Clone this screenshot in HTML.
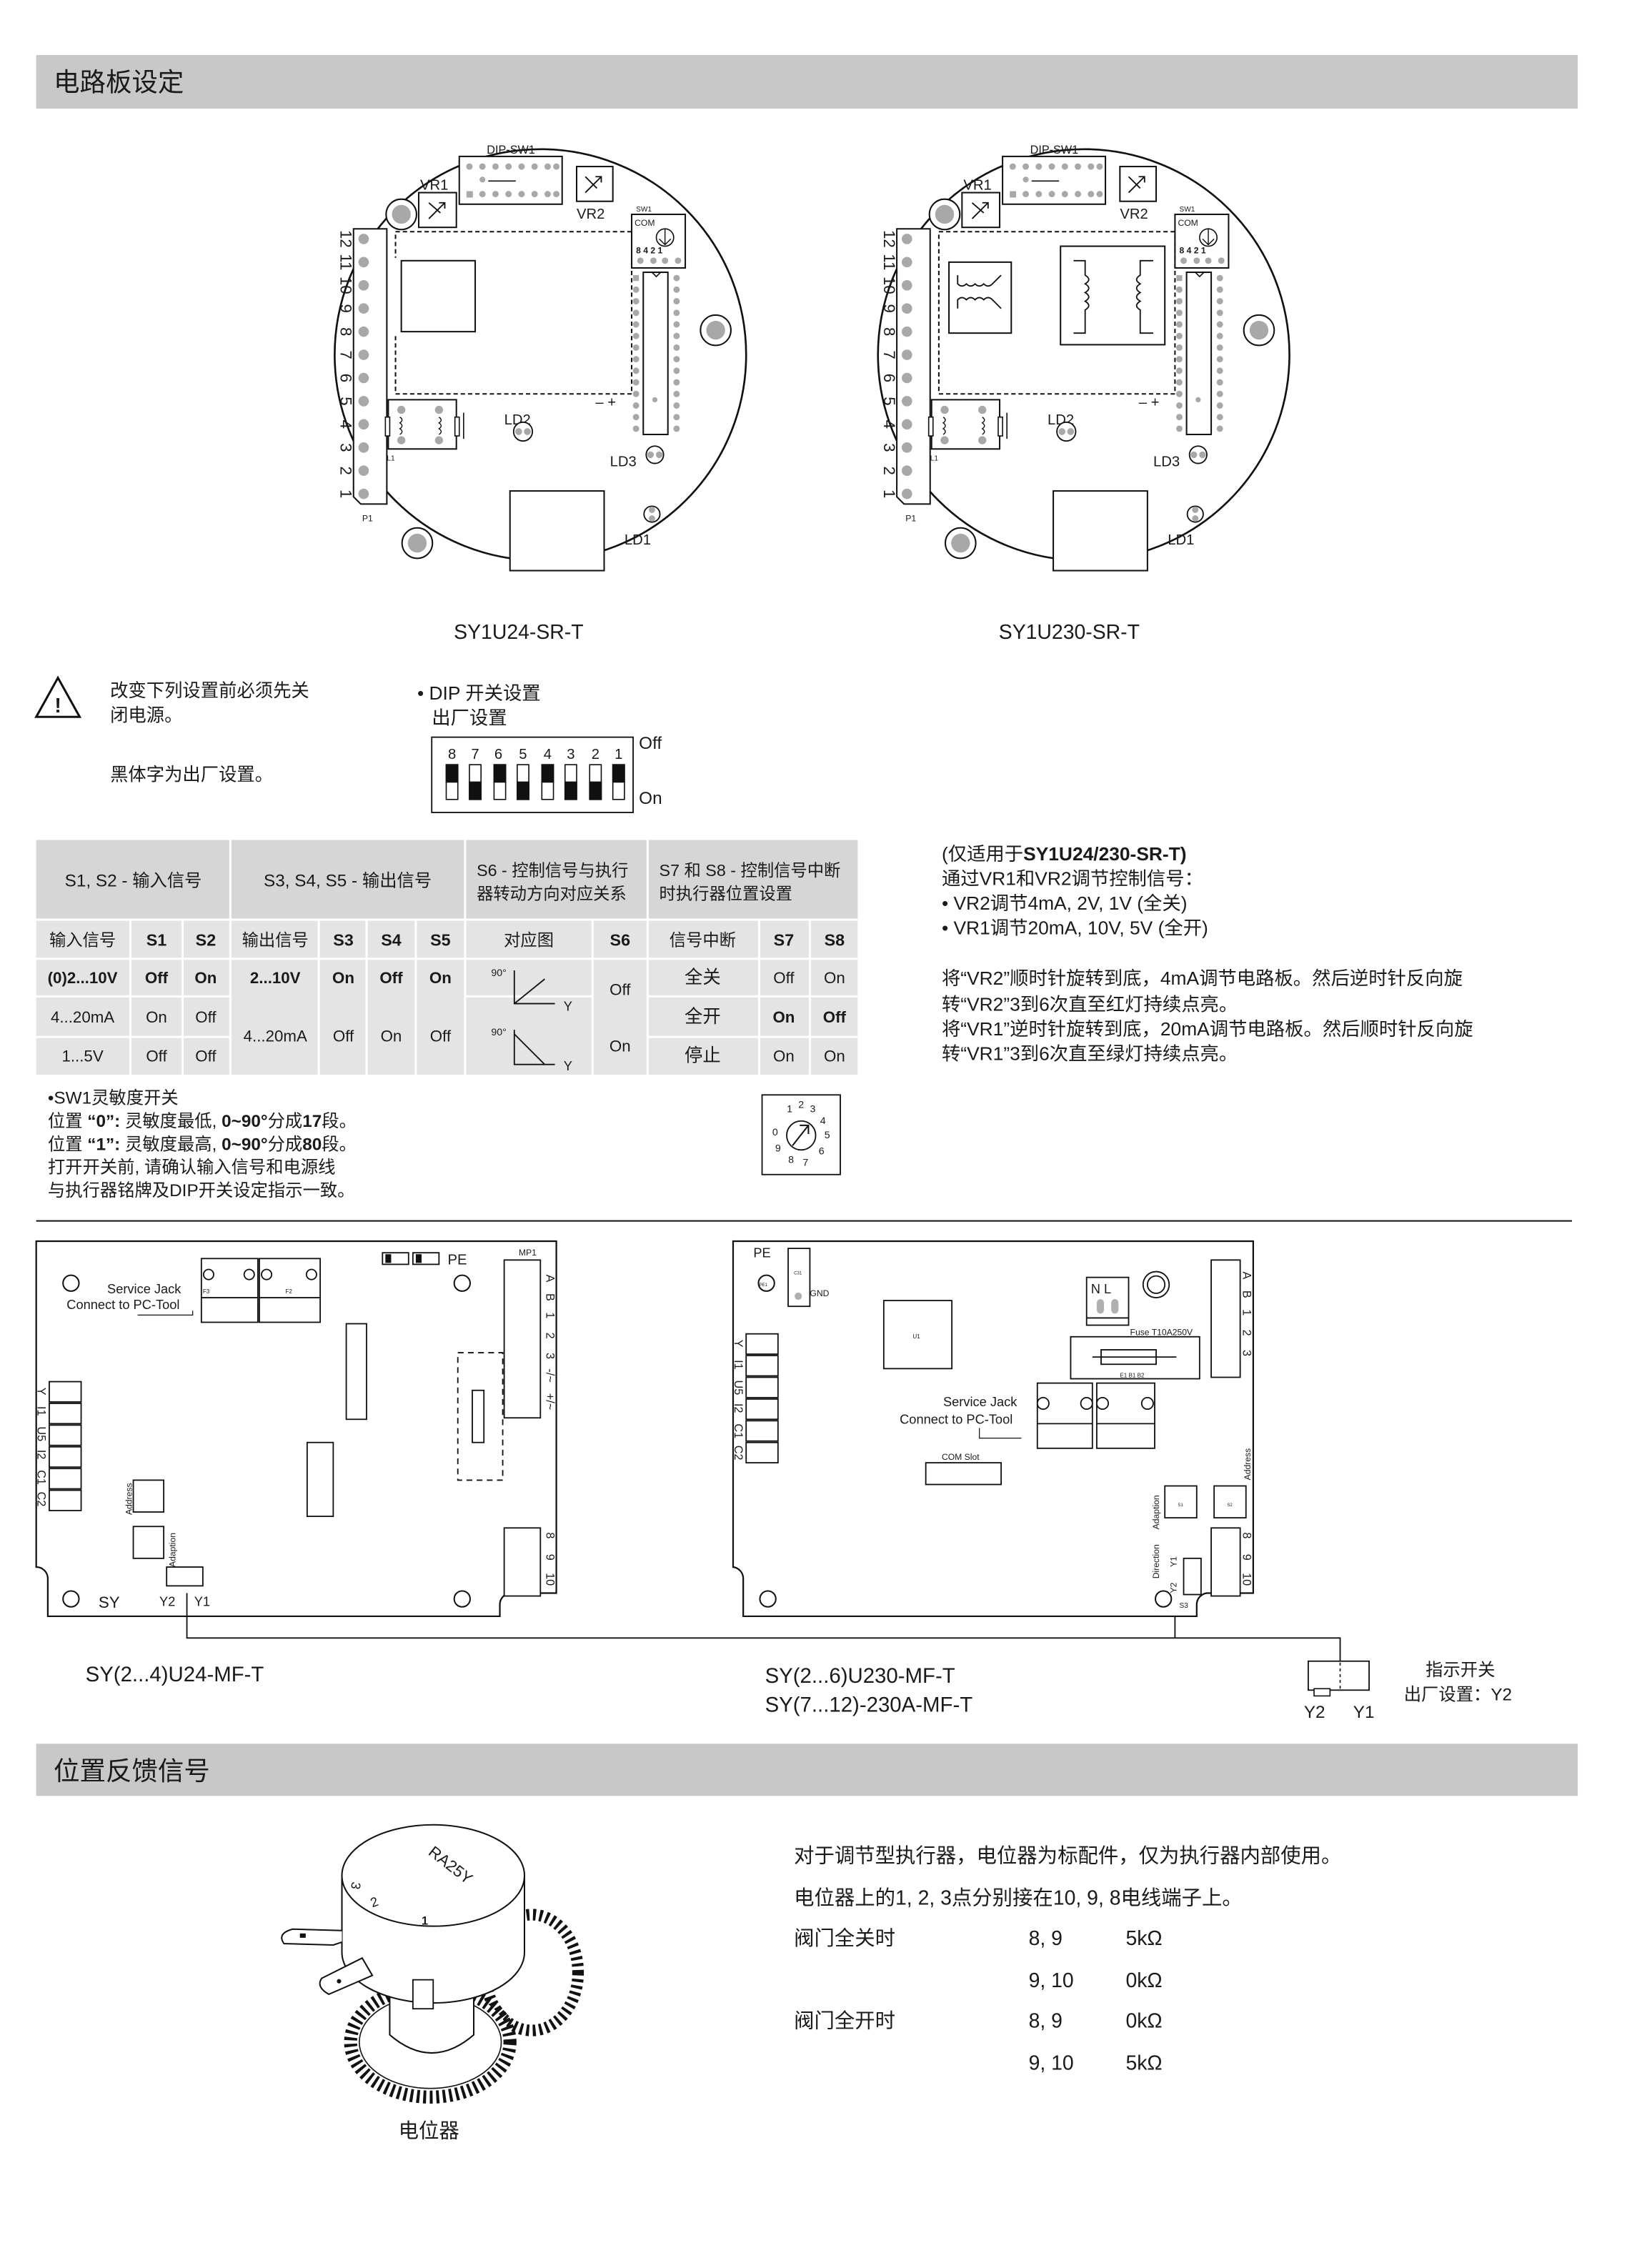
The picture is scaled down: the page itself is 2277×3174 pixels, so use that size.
<!DOCTYPE html>
<html><head><meta charset="utf-8">
<style>
html,body{margin:0;padding:0;background:#fff;}
svg{display:block;}
text{font-family:"Liberation Sans","Noto Sans CJK SC",sans-serif;fill:#1a1a1a;}
</style></head><body>
<svg width="2277" height="3174" viewBox="0 0 1123 1566" preserveAspectRatio="none" xmlns="http://www.w3.org/2000/svg">
<defs>
<g id="board">
  <circle cx="0" cy="0" r="142" fill="#fff" stroke="#111" stroke-width="1.3"/>
  <path d="M-129,-87 L-106,-87 L-106,103 L-124,103 L-129,98 Z" fill="#fff" stroke="#111" stroke-width="1"/>
  <g fill="#a8a8a8">
    <circle cx="-122" cy="-80" r="3.6"/><circle cx="-122" cy="-64" r="3.6"/><circle cx="-122" cy="-48" r="3.6"/><circle cx="-122" cy="-32" r="3.6"/><circle cx="-122" cy="-16" r="3.6"/><circle cx="-122" cy="0" r="3.6"/><circle cx="-122" cy="16" r="3.6"/><circle cx="-122" cy="32" r="3.6"/><circle cx="-122" cy="48" r="3.6"/><circle cx="-122" cy="64" r="3.6"/><circle cx="-122" cy="80" r="3.6"/><circle cx="-122" cy="96" r="3.6"/>
  </g>
  <g font-size="11" text-anchor="middle">
    <text transform="translate(-134,-80) rotate(90)" dy="4">12</text>
    <text transform="translate(-134,-64) rotate(90)" dy="4">11</text>
    <text transform="translate(-134,-48) rotate(90)" dy="4">10</text>
    <text transform="translate(-134,-32) rotate(90)" dy="4">9</text>
    <text transform="translate(-134,-16) rotate(90)" dy="4">8</text>
    <text transform="translate(-134,0) rotate(90)" dy="4">7</text>
    <text transform="translate(-134,16) rotate(90)" dy="4">6</text>
    <text transform="translate(-134,32) rotate(90)" dy="4">5</text>
    <text transform="translate(-134,48) rotate(90)" dy="4">4</text>
    <text transform="translate(-134,64) rotate(90)" dy="4">3</text>
    <text transform="translate(-134,80) rotate(90)" dy="4">2</text>
    <text transform="translate(-134,96) rotate(90)" dy="4">1</text>
  </g>
  <text x="-123" y="115" font-size="6">P1</text>
  <rect x="-100" y="-85" width="163" height="112" fill="none" stroke="#111" stroke-width="1" stroke-dasharray="3,2"/>
  <text x="-37" y="-139" font-size="8">DIP-SW1</text>
  <rect x="-56" y="-137" width="71" height="33" fill="#fff" stroke="#111" stroke-width="1"/>
  <g fill="#a8a8a8">
    <circle cx="-49" cy="-130" r="2.2"/><circle cx="-40" cy="-130" r="2.2"/><circle cx="-31" cy="-130" r="2.2"/><circle cx="-22" cy="-130" r="2.2"/><circle cx="-13" cy="-130" r="2.2"/><circle cx="-4" cy="-130" r="2.2"/><circle cx="5" cy="-130" r="2.2"/><circle cx="11" cy="-130" r="2.2"/>
    <rect x="-51" y="-113" width="4.4" height="4.4"/><circle cx="-40" cy="-111" r="2.2"/><circle cx="-31" cy="-111" r="2.2"/><circle cx="-22" cy="-111" r="2.2"/><circle cx="-13" cy="-111" r="2.2"/><circle cx="-4" cy="-111" r="2.2"/><circle cx="5" cy="-111" r="2.2"/><circle cx="11" cy="-111" r="2.2"/>
    <circle cx="-40" cy="-121" r="2"/>
  </g>
  <line x1="-36" y1="-120" x2="-17" y2="-120" stroke="#111" stroke-width="0.8"/>
  <text x="-83" y="-114" font-size="10">VR1</text>
  <rect x="-84" y="-112" width="26" height="24" fill="#fff" stroke="#111" stroke-width="1"/>
  <path d="M-77,-94 L-66,-105 M-70,-105 L-66,-105 L-66,-101 M-77,-105 L-69,-98" stroke="#111" stroke-width="0.9" fill="none"/>
  <rect x="25" y="-130" width="25" height="24" fill="#fff" stroke="#111" stroke-width="1"/>
  <path d="M31,-112 L42,-123 M38,-123 L42,-123 L42,-119 M31,-123 L39,-115" stroke="#111" stroke-width="0.9" fill="none"/>
  <text x="25" y="-94" font-size="10">VR2</text>
  <circle cx="-96" cy="-97" r="10.5" fill="#fff" stroke="#111" stroke-width="1"/><circle cx="-96" cy="-97" r="6.5" fill="#a8a8a8"/>
  <circle cx="121" cy="-17" r="10.5" fill="#fff" stroke="#111" stroke-width="1"/><circle cx="121" cy="-17" r="6.5" fill="#a8a8a8"/>
  <circle cx="-85" cy="130" r="10.5" fill="#fff" stroke="#111" stroke-width="1"/><circle cx="-85" cy="130" r="6.5" fill="#a8a8a8"/>
  <text x="66" y="-99" font-size="5">SW1</text>
  <rect x="63" y="-97" width="37" height="37" fill="#fff" stroke="#111" stroke-width="1"/>
  <text x="65" y="-89" font-size="6">COM</text>
  <circle cx="86" cy="-81" r="6" fill="none" stroke="#111" stroke-width="0.8"/>
  <path d="M86,-87 L86,-76 M82,-80 L86,-76 L90,-80" stroke="#111" stroke-width="0.7" fill="none"/>
  <text x="66" y="-70" font-size="6" font-weight="bold">8  4  2  1</text>
  <g fill="#a8a8a8"><circle cx="69" cy="-65" r="2.2"/><circle cx="78" cy="-65" r="2.2"/><circle cx="86" cy="-65" r="2.2"/><circle cx="95" cy="-65" r="2.2"/></g>
  <rect x="71" y="-57" width="17" height="112" fill="#fff" stroke="#111" stroke-width="1"/>
  <path d="M77,-57 L80,-54 L83,-57" fill="none" stroke="#111" stroke-width="0.8"/>
  <g fill="#a8a8a8">
    <rect x="64" y="-55" width="4" height="4"/>
    <circle cx="66" cy="-45" r="2.2"/><circle cx="66" cy="-37" r="2.2"/><circle cx="66" cy="-29" r="2.2"/><circle cx="66" cy="-21" r="2.2"/><circle cx="66" cy="-13" r="2.2"/><circle cx="66" cy="-5" r="2.2"/><circle cx="66" cy="3" r="2.2"/><circle cx="66" cy="11" r="2.2"/><circle cx="66" cy="19" r="2.2"/><circle cx="66" cy="27" r="2.2"/><circle cx="66" cy="35" r="2.2"/><circle cx="66" cy="43" r="2.2"/><circle cx="66" cy="51" r="2.2"/>
    <circle cx="94" cy="-53" r="2.2"/><circle cx="94" cy="-45" r="2.2"/><circle cx="94" cy="-37" r="2.2"/><circle cx="94" cy="-29" r="2.2"/><circle cx="94" cy="-21" r="2.2"/><circle cx="94" cy="-13" r="2.2"/><circle cx="94" cy="-5" r="2.2"/><circle cx="94" cy="3" r="2.2"/><circle cx="94" cy="11" r="2.2"/><circle cx="94" cy="19" r="2.2"/><circle cx="94" cy="27" r="2.2"/><circle cx="94" cy="35" r="2.2"/><circle cx="94" cy="43" r="2.2"/><circle cx="94" cy="51" r="2.2"/>
    <circle cx="79" cy="31" r="1.8"/>
  </g>
  <text x="38" y="36" font-size="10">– +</text>
  <rect x="-105" y="31" width="47" height="34" fill="#fff" stroke="#111" stroke-width="1"/>
  <rect x="-107" y="43" width="3" height="13" fill="#fff" stroke="#111" stroke-width="0.8"/>
  <rect x="-59" y="43" width="3" height="13" fill="#fff" stroke="#111" stroke-width="0.8"/>
  <line x1="-53" y1="40" x2="-53" y2="58" stroke="#111" stroke-width="0.8"/>
  <g fill="#a8a8a8"><circle cx="-96" cy="38" r="2.8"/><circle cx="-70" cy="38" r="2.8"/><circle cx="-96" cy="59" r="2.8"/><circle cx="-70" cy="59" r="2.8"/></g>
  <path d="M-97,43 q3,2 0,4 q3,2 0,4 q3,2 0,4 M-70,43 q3,2 0,4 q3,2 0,4 q3,2 0,4" fill="none" stroke="#111" stroke-width="0.7"/>
  <text x="-106" y="73" font-size="5">L1</text>
  <text x="-25" y="48" font-size="10">LD2</text>
  <circle cx="-12" cy="53" r="6.5" fill="#fff" stroke="#111" stroke-width="0.9"/>
  <g fill="#a8a8a8"><circle cx="-15" cy="53" r="2.4"/><circle cx="-9" cy="53" r="2.4"/></g>
  <text x="48" y="77" font-size="10">LD3</text>
  <circle cx="79" cy="69" r="6" fill="#fff" stroke="#111" stroke-width="0.9"/>
  <g fill="#a8a8a8"><circle cx="76" cy="69" r="2.3"/><circle cx="82" cy="69" r="2.3"/></g>
  <rect x="-21" y="94" width="65" height="55" fill="#fff" stroke="#111" stroke-width="1"/>
  <circle cx="77" cy="110" r="5.5" fill="#fff" stroke="#111" stroke-width="0.9"/>
  <g fill="#a8a8a8"><circle cx="77" cy="107" r="2.2"/><circle cx="77" cy="113" r="2.2"/></g>
  <text x="58" y="131" font-size="10">LD1</text>
</g>
</defs>

<rect x="25" y="38" width="1064" height="37" fill="#c8c8c8"/>
<text x="37" y="63" font-size="18">电路板设定</text>

<use href="#board" x="373" y="245"/>
<rect x="270" y="178" width="62" height="54" fill="#fff"/>
<rect x="277" y="180" width="51" height="49" fill="#fff" stroke="#111" stroke-width="1"/>

<use href="#board" x="748" y="245"/>
<rect x="650" y="177" width="160" height="62" fill="#fff"/>
<rect x="655" y="181" width="43" height="49" fill="#fff" stroke="#111" stroke-width="1"/>
<path d="M661,190 L661,196 q3,3 6,0 q3,3 6,0 q3,3 6,0 q3,3 6,0 L691,190 M661,213 L661,207 q3,-3 6,0 q3,-3 6,0 q3,-3 6,0 q3,-3 6,0 L691,213" fill="none" stroke="#111" stroke-width="0.9"/>
<rect x="732" y="170" width="72" height="68" fill="#fff" stroke="#111" stroke-width="1"/>
<path d="M741,180 L749,180 L749,190 q5,3 0,6 q5,3 0,6 q5,3 0,6 q5,3 0,6 L749,230 L741,230 M796,180 L787,180 L787,190 q-5,3 0,6 q-5,3 0,6 q-5,3 0,6 q-5,3 0,6 L787,230 L796,230" fill="none" stroke="#111" stroke-width="0.9"/>

<text x="358" y="441" font-size="14" text-anchor="middle">SY1U24-SR-T</text>
<text x="738" y="441" font-size="14" text-anchor="middle">SY1U230-SR-T</text>

<path d="M40,468 L55,495 L25,495 Z" fill="none" stroke="#111" stroke-width="1.5"/>
<text x="40" y="492" font-size="14" text-anchor="middle" font-weight="bold">!</text>
<text x="76" y="481" font-size="12.5">改变下列设置前必须先关</text>
<text x="76" y="498" font-size="12.5">闭电源。</text>
<text x="76" y="539" font-size="12.5">黑体字为出厂设置。</text>

<text x="288" y="483" font-size="13">• DIP 开关设置</text>
<text x="298" y="500" font-size="13">出厂设置</text>
<rect x="298" y="509" width="139" height="52" fill="#fff" stroke="#111" stroke-width="0.9"/>
<g font-size="10" text-anchor="middle">
<text x="312" y="524">8</text><text x="328" y="524">7</text><text x="344" y="524">6</text><text x="361" y="524">5</text><text x="378" y="524">4</text><text x="394" y="524">3</text><text x="411" y="524">2</text><text x="427" y="524">1</text>
</g>
<g stroke="#111" stroke-width="0.8">
<rect x="308" y="528" width="8" height="24" fill="#fff"/><rect x="308" y="528" width="8" height="12" fill="#111"/>
<rect x="324" y="528" width="8" height="24" fill="#fff"/><rect x="324" y="540" width="8" height="12" fill="#111"/>
<rect x="341" y="528" width="8" height="24" fill="#fff"/><rect x="341" y="528" width="8" height="12" fill="#111"/>
<rect x="357" y="528" width="8" height="24" fill="#fff"/><rect x="357" y="540" width="8" height="12" fill="#111"/>
<rect x="374" y="528" width="8" height="24" fill="#fff"/><rect x="374" y="528" width="8" height="12" fill="#111"/>
<rect x="390" y="528" width="8" height="24" fill="#fff"/><rect x="390" y="540" width="8" height="12" fill="#111"/>
<rect x="407" y="528" width="8" height="24" fill="#fff"/><rect x="407" y="540" width="8" height="12" fill="#111"/>
<rect x="423" y="528" width="8" height="24" fill="#fff"/><rect x="423" y="528" width="8" height="12" fill="#111"/>
</g>
<text x="441" y="517" font-size="12">Off</text>
<text x="441" y="555" font-size="12">On</text>

<rect x="25" y="580" width="567" height="162" fill="#e4e4e4"/>
<rect x="25" y="580" width="567" height="55" fill="#d6d6d6"/>
<g stroke="#fff" stroke-width="1.5" fill="none">
<line x1="25" y1="635" x2="592" y2="635"/><line x1="25" y1="662" x2="592" y2="662"/>
<line x1="25" y1="688" x2="159" y2="688"/><line x1="447" y1="688" x2="592" y2="688"/>
<line x1="25" y1="716" x2="159" y2="716"/><line x1="447" y1="716" x2="592" y2="716"/>
<line x1="321" y1="688" x2="409" y2="688"/>
<line x1="159" y1="580" x2="159" y2="742"/><line x1="321" y1="580" x2="321" y2="742"/><line x1="447" y1="580" x2="447" y2="742"/>
<line x1="90" y1="635" x2="90" y2="742"/><line x1="126" y1="635" x2="126" y2="742"/>
<line x1="220" y1="635" x2="220" y2="742"/><line x1="253" y1="635" x2="253" y2="742"/><line x1="287" y1="635" x2="287" y2="742"/>
<line x1="409" y1="635" x2="409" y2="742"/><line x1="524" y1="635" x2="524" y2="742"/><line x1="559" y1="635" x2="559" y2="742"/>
</g>
<g font-size="12">
<text x="92" y="612" text-anchor="middle">S1, S2 - 输入信号</text>
<text x="240" y="612" text-anchor="middle">S3, S4, S5 - 输出信号</text>
<text x="329" y="605" font-size="11.5">S6 - 控制信号与执行</text>
<text x="329" y="621" font-size="11.5">器转动方向对应关系</text>
<text x="455" y="605" font-size="11.5">S7 和 S8 - 控制信号中断</text>
<text x="455" y="621" font-size="11.5">时执行器位置设置</text>
</g>
<g font-size="11.5" text-anchor="middle">
<text x="57" y="653">输入信号</text><text x="108" y="653" font-weight="bold">S1</text><text x="142" y="653" font-weight="bold">S2</text>
<text x="190" y="653">输出信号</text><text x="237" y="653" font-weight="bold">S3</text><text x="270" y="653" font-weight="bold">S4</text><text x="304" y="653" font-weight="bold">S5</text>
<text x="365" y="653">对应图</text><text x="428" y="653" font-weight="bold">S6</text>
<text x="485" y="653">信号中断</text><text x="541" y="653" font-weight="bold">S7</text><text x="576" y="653" font-weight="bold">S8</text>
<g font-size="11">
<text x="57" y="679" font-weight="bold">(0)2...10V</text><text x="108" y="679" font-weight="bold">Off</text><text x="142" y="679" font-weight="bold">On</text>
<text x="190" y="679" font-weight="bold">2...10V</text><text x="237" y="679" font-weight="bold">On</text><text x="270" y="679" font-weight="bold">Off</text><text x="304" y="679" font-weight="bold">On</text>
<text x="57" y="706">4...20mA</text><text x="108" y="706">On</text><text x="142" y="706">Off</text>
<text x="57" y="733">1...5V</text><text x="108" y="733">Off</text><text x="142" y="733">Off</text>
<text x="190" y="719">4...20mA</text><text x="237" y="719">Off</text><text x="270" y="719">On</text><text x="304" y="719">Off</text>
<text x="428" y="687">Off</text><text x="428" y="726">On</text>
<text x="541" y="679">Off</text><text x="576" y="679">On</text>
<text x="541" y="706" font-weight="bold">On</text><text x="576" y="706" font-weight="bold">Off</text>
<text x="541" y="733">On</text><text x="576" y="733">On</text>
</g>
<g font-size="12.5"><text x="485" y="679">全关</text><text x="485" y="706">全开</text><text x="485" y="733">停止</text></g>
</g>
<g stroke="#111" stroke-width="0.9" fill="none">
<path d="M355,670 L355,693 L383,693 M355,693 L376,676"/>
<path d="M355,711 L355,735 L383,735 M355,714 L376,735"/>
</g>
<g font-size="7"><text x="339" y="674">90°</text><text x="389" y="698" font-size="9">Y</text><text x="339" y="715">90°</text><text x="389" y="739" font-size="9">Y</text></g>

<g font-size="13">
<text x="650" y="594"><tspan>(仅适用于</tspan><tspan font-weight="bold">SY1U24/230-SR-T)</tspan></text>
<text x="650" y="611">通过VR1和VR2调节控制信号：</text>
<text x="650" y="628">•   VR2调节4mA, 2V, 1V (全关)</text>
<text x="650" y="645">•   VR1调节20mA, 10V, 5V (全开)</text>
<text x="650" y="680">将“VR2”顺时针旋转到底，4mA调节电路板。然后逆时针反向旋</text>
<text x="650" y="698">转“VR2”3到6次直至红灯持续点亮。</text>
<text x="650" y="715">将“VR1”逆时针旋转到底，20mA调节电路板。然后顺时针反向旋</text>
<text x="650" y="732">转“VR1”3到6次直至绿灯持续点亮。</text>
</g>

<g font-size="12">
<text x="33" y="762">•SW1灵敏度开关</text>
<text x="33" y="778"><tspan>位置 </tspan><tspan font-weight="bold">“0”:</tspan><tspan> 灵敏度最低, </tspan><tspan font-weight="bold">0~90°</tspan><tspan>分成</tspan><tspan font-weight="bold">17</tspan><tspan>段。</tspan></text>
<text x="33" y="794"><tspan>位置 </tspan><tspan font-weight="bold">“1”:</tspan><tspan> 灵敏度最高, </tspan><tspan font-weight="bold">0~90°</tspan><tspan>分成</tspan><tspan font-weight="bold">80</tspan><tspan>段。</tspan></text>
<text x="33" y="810">打开开关前, 请确认输入信号和电源线</text>
<text x="33" y="826">与执行器铭牌及DIP开关设定指示一致。</text>
</g>
<rect x="526" y="756" width="54" height="55" fill="#fff" stroke="#111" stroke-width="0.9"/>
<circle cx="553" cy="784" r="10" fill="none" stroke="#111" stroke-width="0.9"/>
<path d="M547,791 L558,777 M552,777 L558,777 L558,783" stroke="#111" stroke-width="1" fill="none"/>
<g font-size="7" text-anchor="middle">
<text x="545" y="768">1</text><text x="553" y="765">2</text><text x="561" y="768">3</text><text x="568" y="776">4</text><text x="571" y="786">5</text><text x="567" y="797">6</text><text x="556" y="805">7</text><text x="546" y="803">8</text><text x="537" y="795">9</text><text x="535" y="784">0</text>
</g>

<line x1="25" y1="843" x2="1085" y2="843" stroke="#111" stroke-width="1"/>

<path d="M25,857 L384,857 L384,1100 L352,1100 A8,8 0 0 0 345,1108 L345,1116 L33,1116 L33,1090 A8,8 0 0 0 25,1082 Z" fill="#fff" stroke="#111" stroke-width="1.1"/>
<circle cx="49" cy="886" r="5.5" fill="none" stroke="#111"/>
<text x="74" y="893" font-size="9">Service Jack</text>
<text x="46" y="904" font-size="9">Connect to PC-Tool</text>
<path d="M95,908 L133,908 L133,905" fill="none" stroke="#111" stroke-width="0.6"/>
<g stroke="#111" stroke-width="0.9" fill="#fff">
<rect x="139" y="869" width="39" height="44"/><rect x="179" y="869" width="42" height="44"/>
<line x1="139" y1="896" x2="178" y2="896"/><line x1="179" y1="896" x2="221" y2="896"/>
<circle cx="144" cy="880" r="3.5"/><circle cx="172" cy="880" r="3.5"/><circle cx="184" cy="880" r="3.5"/><circle cx="215" cy="880" r="3.5"/>
<rect x="264" y="865" width="18" height="8"/><rect x="285" y="865" width="18" height="8"/>
<rect x="348" y="870" width="25" height="109"/>
<rect x="239" y="914" width="14" height="66"/>
<rect x="212" y="996" width="18" height="51"/>
<rect x="316" y="934" width="31" height="88" stroke-dasharray="4,3"/>
<rect x="326" y="960" width="8" height="36"/>
<rect x="34" y="954" width="22" height="14"/><rect x="34" y="969" width="22" height="14"/><rect x="34" y="984" width="22" height="14"/><rect x="34" y="999" width="22" height="14"/><rect x="34" y="1014" width="22" height="14"/><rect x="34" y="1029" width="22" height="14"/>
<rect x="92" y="1022" width="21" height="22"/>
<rect x="92" y="1054" width="21" height="22"/>
<rect x="115" y="1082" width="25" height="13"/>
<rect x="348" y="1055" width="25" height="47"/>
</g>
<g fill="#111"><rect x="266" y="866" width="4" height="6"/><rect x="287" y="866" width="4" height="6"/></g>
<text x="140" y="893" font-size="4">F3</text><text x="197" y="893" font-size="4">F2</text>
<text x="309" y="873" font-size="10">PE</text>
<text x="358" y="867" font-size="6">MP1</text>
<g font-size="8">
<text transform="translate(377,880) rotate(90)">A</text><text transform="translate(377,893) rotate(90)">B</text><text transform="translate(377,906) rotate(90)">1</text><text transform="translate(377,920) rotate(90)">2</text><text transform="translate(377,934) rotate(90)">3</text><text transform="translate(377,945) rotate(90)">-/~</text><text transform="translate(377,962) rotate(90)">+/~</text>
<text transform="translate(377,1058) rotate(90)">8</text><text transform="translate(377,1073) rotate(90)">9</text><text transform="translate(377,1086) rotate(90)">10</text>
<text transform="translate(26,958) rotate(90)">Y</text><text transform="translate(26,971) rotate(90)">I1</text><text transform="translate(26,985) rotate(90)">U5</text><text transform="translate(26,1001) rotate(90)">I2</text><text transform="translate(26,1015) rotate(90)">C1</text><text transform="translate(26,1030) rotate(90)">C2</text>
</g>
<text transform="translate(91,1046) rotate(-90)" font-size="6">Address</text>
<text transform="translate(121,1082) rotate(-90)" font-size="6">Adaption</text>
<circle cx="49" cy="1104" r="5.5" fill="none" stroke="#111"/>
<circle cx="319" cy="1104" r="5.5" fill="none" stroke="#111"/>
<circle cx="319" cy="886" r="5.5" fill="none" stroke="#111"/>
<text x="68" y="1110" font-size="11">SY</text>
<text x="110" y="1109" font-size="9">Y2</text><text x="134" y="1109" font-size="9">Y1</text>

<path d="M506,857 L865,857 L865,1100 L833,1100 A8,8 0 0 0 826,1108 L826,1116 L513,1116 L513,1090 A8,8 0 0 0 506,1082 Z" fill="#fff" stroke="#111" stroke-width="1.1"/>
<text x="520" y="868" font-size="9">PE</text>
<circle cx="529" cy="886" r="5.5" fill="none" stroke="#111"/>
<text x="524" y="888" font-size="3">PE1</text>
<g stroke="#111" stroke-width="0.9" fill="#fff">
<rect x="544" y="862" width="15" height="40"/>
<rect x="610" y="898" width="47" height="47"/>
<rect x="750" y="882" width="29" height="33"/><line x1="750" y1="910" x2="779" y2="910"/>
<circle cx="798" cy="887" r="9"/><circle cx="798" cy="887" r="6"/>
<rect x="739" y="923" width="89" height="29"/>
<rect x="760" y="932" width="38" height="10"/><line x1="754" y1="937" x2="812" y2="937"/>
<rect x="515" y="921" width="22" height="14"/><rect x="515" y="936" width="22" height="14"/><rect x="515" y="951" width="22" height="14"/><rect x="515" y="966" width="22" height="14"/><rect x="515" y="981" width="22" height="14"/><rect x="515" y="996" width="22" height="14"/>
<rect x="716" y="955" width="38" height="45"/><rect x="757" y="955" width="40" height="45"/>
<line x1="716" y1="983" x2="754" y2="983"/><line x1="757" y1="983" x2="797" y2="983"/>
<circle cx="720" cy="969" r="4"/><circle cx="750" cy="969" r="4"/><circle cx="761" cy="969" r="4"/><circle cx="792" cy="969" r="4"/>
<rect x="639" y="1010" width="52" height="15"/>
<rect x="836" y="870" width="20" height="81"/>
<rect x="804" y="1026" width="22" height="22"/><rect x="838" y="1026" width="22" height="22"/>
<rect x="836" y="1055" width="20" height="47"/>
<rect x="817" y="1076" width="12" height="25"/>
</g>
<g fill="#b0b0b0"><circle cx="551" cy="895" r="2.5"/><rect x="757" y="897" width="5" height="10" rx="2.5"/><rect x="767" y="897" width="5" height="10" rx="2.5"/></g>
<text x="559" y="895" font-size="6">GND</text>
<text x="548" y="880" font-size="3">C31</text>
<text x="630" y="924" font-size="4">U1</text>
<text x="753" y="893" font-size="9">N  L</text>
<text x="780" y="922" font-size="6">Fuse  T10A250V</text>
<text x="773" y="951" font-size="4">E1  B1  B2</text>
<text x="651" y="971" font-size="9">Service Jack</text>
<text x="621" y="983" font-size="9">Connect to PC-Tool</text>
<path d="M676,986 L676,993 L705,993" fill="none" stroke="#111" stroke-width="0.6"/>
<text x="650" y="1008" font-size="6">COM  Slot</text>
<g font-size="8">
<text transform="translate(858,878) rotate(90)">A</text><text transform="translate(858,891) rotate(90)">B</text><text transform="translate(858,904) rotate(90)">1</text><text transform="translate(858,918) rotate(90)">2</text><text transform="translate(858,932) rotate(90)">3</text>
<text transform="translate(858,1058) rotate(90)">8</text><text transform="translate(858,1073) rotate(90)">9</text><text transform="translate(858,1086) rotate(90)">10</text>
<text transform="translate(507,925) rotate(90)">Y</text><text transform="translate(507,939) rotate(90)">I1</text><text transform="translate(507,953) rotate(90)">U5</text><text transform="translate(507,969) rotate(90)">I2</text><text transform="translate(507,983) rotate(90)">C1</text><text transform="translate(507,998) rotate(90)">C2</text>
</g>
<text transform="translate(863,1022) rotate(-90)" font-size="6">Address</text>
<text transform="translate(800,1056) rotate(-90)" font-size="6">Adaption</text>
<text transform="translate(800,1090) rotate(-90)" font-size="6">Direction</text>
<text transform="translate(812,1082) rotate(-90)" font-size="6">Y1</text>
<text transform="translate(812,1100) rotate(-90)" font-size="6">Y2</text>
<text x="814" y="1110" font-size="5">S3</text>
<text x="813" y="1040" font-size="3">S1</text><text x="847" y="1040" font-size="3">S2</text>
<circle cx="530" cy="1104" r="5.5" fill="none" stroke="#111"/>
<circle cx="803" cy="1104" r="5.5" fill="none" stroke="#111"/>

<path d="M129,1100 L129,1131 L925,1131 L925,1147 M811,1116 L811,1131" fill="none" stroke="#111" stroke-width="0.9"/>
<rect x="903" y="1147" width="42" height="20" fill="#fff" stroke="#111" stroke-width="0.9"/>
<line x1="925" y1="1148" x2="925" y2="1166" stroke="#111" stroke-width="0.8" stroke-dasharray="2,2"/>
<rect x="907" y="1166" width="11" height="5" fill="#fff" stroke="#111" stroke-width="0.8"/>
<text x="900" y="1186" font-size="12">Y2</text><text x="934" y="1186" font-size="12">Y1</text>
<text x="984" y="1157" font-size="12">指示开关</text>
<text x="969" y="1174" font-size="12">出厂设置：Y2</text>

<text x="59" y="1161" font-size="14.5">SY(2...4)U24-MF-T</text>
<text x="528" y="1162" font-size="14.5">SY(2...6)U230-MF-T</text>
<text x="528" y="1182" font-size="14.5">SY(7...12)-230A-MF-T</text>

<rect x="25" y="1204" width="1064" height="36" fill="#c8c8c8"/>
<text x="37" y="1229" font-size="18">位置反馈信号</text>

<!-- Potentiometer -->
<ellipse cx="367" cy="1362" rx="32" ry="40" fill="#fff" stroke="#111" stroke-width="8" stroke-dasharray="2,2.5"/>
<ellipse cx="297" cy="1410" rx="55" ry="38" fill="#fff" stroke="#111" stroke-width="9" stroke-dasharray="2,2.5"/>
<ellipse cx="297" cy="1410" rx="49" ry="32" fill="#fff" stroke="#111" stroke-width="0.8"/>
<path d="M269,1378 L269,1405 Q298,1430 327,1405 L327,1378" fill="#fff" stroke="#111" stroke-width="1"/>
<path d="M236,1295 L236,1348 A63,35 0 0 0 362,1348 L362,1295" fill="#fff" stroke="#111" stroke-width="1"/>
<ellipse cx="299" cy="1295" rx="63" ry="35" fill="#fff" stroke="#111" stroke-width="1"/>
<rect x="285" y="1367" width="14" height="20" fill="#fff" stroke="#111" stroke-width="0.9"/>
<path d="M236,1333 L202,1332 Q191,1335 196,1342 L230,1343 L236,1341" fill="#fff" stroke="#111" stroke-width="1"/>
<rect x="207" y="1335" width="4" height="3" fill="#111"/>
<path d="M244,1355 L222,1366 Q218,1372 227,1377 L257,1364 L250,1352 Z" fill="#fff" stroke="#111" stroke-width="1"/>
<circle cx="234" cy="1368" r="1.5" fill="#111"/>
<text transform="translate(295,1280) rotate(38)" font-size="11">RA25Y</text>
<text transform="translate(243,1299) rotate(100)" font-size="9">3</text>
<text transform="translate(257,1317) rotate(-20)" font-size="9">2</text>
<text x="291" y="1329" font-size="8" font-weight="bold">1</text>
<text x="296" y="1476" font-size="14" text-anchor="middle">电位器</text>

<g font-size="14">
<text x="548" y="1286">对于调节型执行器，电位器为标配件，仅为执行器内部使用。</text>
<text x="548" y="1315">电位器上的1, 2, 3点分别接在10, 9, 8电线端子上。</text>
<text x="548" y="1343">阀门全关时</text><text x="710" y="1343">8, 9</text><text x="777" y="1343">5kΩ</text>
<text x="710" y="1372">9, 10</text><text x="777" y="1372">0kΩ</text>
<text x="548" y="1400">阀门全开时</text><text x="710" y="1400">8, 9</text><text x="777" y="1400">0kΩ</text>
<text x="710" y="1429">9, 10</text><text x="777" y="1429">5kΩ</text>
</g>
</svg>
</body></html>
